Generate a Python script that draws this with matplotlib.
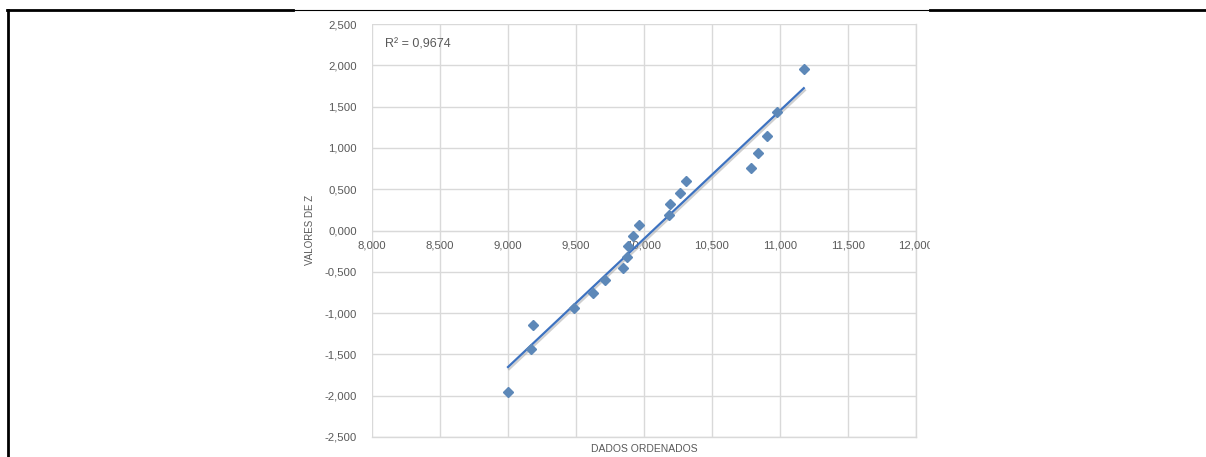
import numpy as np
import matplotlib
matplotlib.use('Agg')
import matplotlib.pyplot as plt
import matplotlib.patheffects as pe
from matplotlib.ticker import MultipleLocator, FuncFormatter
from matplotlib.patches import Rectangle
from matplotlib.lines import Line2D

# dados ordenados x valores de Z
dados = [9.000, 9.170, 9.185, 9.485, 9.625, 9.715, 9.845, 9.875, 9.880, 9.920,
         9.965, 10.185, 10.190, 10.265, 10.310, 10.785, 10.840, 10.905, 10.980, 11.175]
z = [-1.960, -1.440, -1.150, -0.935, -0.755, -0.598, -0.454, -0.319, -0.189, -0.063,
     0.063, 0.189, 0.319, 0.454, 0.598, 0.755, 0.935, 1.150, 1.440, 1.960]
r2_txt = 'R² = 0,9674'

plt.rcParams['font.family'] = ['Liberation Sans', 'DejaVu Sans']
cinza = '#595959'
grade = '#d9d9d9'

fig = plt.figure(figsize=(12.06, 4.57), dpi=100)
ax = fig.add_axes([372/1206, 1-437/457, (916-372)/1206, (437-24)/457])

x = np.array(dados)
y = np.array(z)
a, b = np.polyfit(x, y, 1)
xl = np.array([x.min(), x.max()])

ax.plot(xl, a*xl + b, color='#3d72c0', lw=1.6, zorder=3,
        path_effects=[pe.SimpleLineShadow(offset=(0.8, -1.5), shadow_color='#a0a0a0', alpha=0.5),
                      pe.Normal()])
ax.plot(x, y, 'D', color='#5d88b8', ms=5.2, mec='#5d88b8', zorder=4)

ax.set_xlim(8, 12)
ax.set_ylim(-2.5, 2.5)
ax.xaxis.set_major_locator(MultipleLocator(0.5))
ax.yaxis.set_major_locator(MultipleLocator(0.5))
fmt = FuncFormatter(lambda v, p: ('%.3f' % v).replace('.', ','))
ax.xaxis.set_major_formatter(fmt)
ax.yaxis.set_major_formatter(fmt)
ax.grid(True, color=grade, lw=1)
ax.set_axisbelow(True)
# bordas da area de plotagem (linhas de grade nos limites)
ax.axvline(12, color=grade, lw=1, clip_on=False, zorder=0.5)
ax.axhline(-2.5, color=grade, lw=1, clip_on=False, zorder=0.5)
for s in ['top', 'right', 'left']:
    ax.spines[s].set_visible(False)
ax.spines['bottom'].set_position(('data', 0))
ax.spines['bottom'].set_color(grade)
ax.tick_params(length=0, labelsize=8.2, colors=cinza)
ax.tick_params(axis='y', pad=11)
ax.tick_params(axis='x', pad=7)

ax.text(0.023, 0.95, r2_txt, transform=ax.transAxes, fontsize=9, color=cinza,
        va='center', ha='left')
fig.text(310/1206, 1-230/457, 'VALORES DE Z', rotation=90, fontsize=7, color=cinza,
         ha='center', va='center')
fig.text(644/1206, 1-449/457, 'DADOS ORDENADOS', fontsize=7.5, color=cinza,
         ha='center', va='center')

# recorte da imagem do grafico e bordas da tabela
fig.patches.append(Rectangle((930/1206, 0), 1, 1-12/457, transform=fig.transFigure,
                             color='white', zorder=10))
fig.lines.append(Line2D([7/1206, 293/1206], [1-10/457]*2, transform=fig.transFigure,
                        color='black', lw=2, zorder=11))
fig.lines.append(Line2D([293/1206, 930/1206], [1-10/457]*2, transform=fig.transFigure,
                        color='black', lw=0.8, zorder=11))
fig.lines.append(Line2D([930/1206, 1], [1-10/457]*2, transform=fig.transFigure,
                        color='black', lw=2, zorder=11))
fig.lines.append(Line2D([7.5/1206]*2, [0, 1-10/457], transform=fig.transFigure,
                        color='black', lw=2, zorder=11))

fig.savefig('out.png', dpi=100)
